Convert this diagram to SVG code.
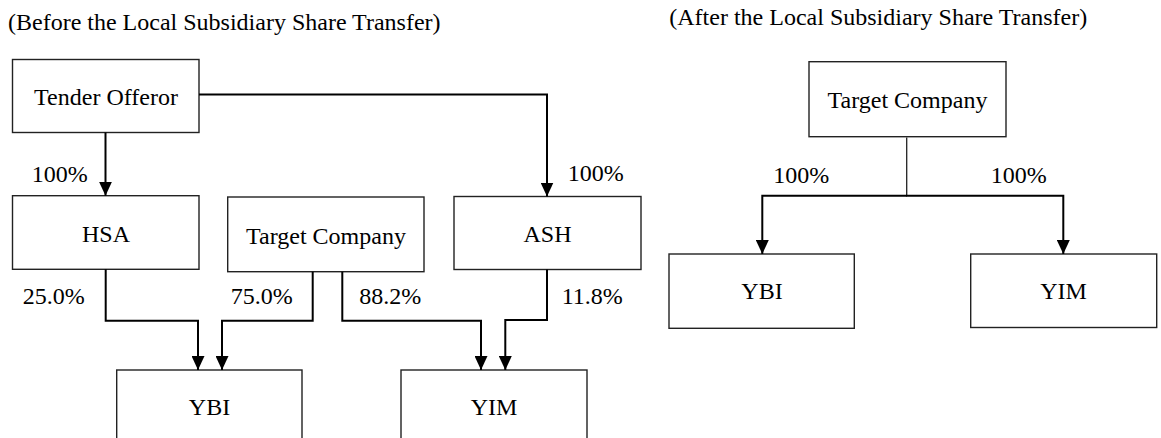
<svg xmlns="http://www.w3.org/2000/svg" width="1161" height="438" viewBox="0 0 1161 438" font-family="'Liberation Serif', 'Times New Roman', serif" font-size="24">
  <style>
    text { font-family: "Liberation Serif", "Times New Roman", serif; font-size: 24px; fill: #000; }
    .c { text-anchor: middle; }
    .box { fill: #fff; stroke: #222; stroke-width: 1.4; }
    .ln { fill: none; stroke: #000; stroke-width: 2; }
    .thin { fill: none; stroke: #222; stroke-width: 1.3; }
  </style>
  <defs>
    <marker id="arr" viewBox="0 0 14 13" refX="14" refY="6.5" markerWidth="14" markerHeight="13" markerUnits="userSpaceOnUse" orient="auto">
      <path d="M0,0 L14,6.5 L0,13 z" fill="#000"/>
    </marker>
  </defs>

  <text x="8" y="30" style="font-family:'Liberation Serif',serif">(Before the Local Subsidiary Share Transfer)</text>
  <text x="669.3" y="25" style="font-family:'Liberation Serif',serif">(After the Local Subsidiary Share Transfer)</text>

  <g id="tender-offeror">
    <rect class="box" x="12.5" y="59.5" width="186.5" height="73"/>
    <text class="c" x="106" y="105" style="font-family:'Liberation Serif',serif">Tender Offeror</text>
  </g>
  <g id="hsa">
    <rect class="box" x="12.5" y="195.7" width="186.5" height="73.6"/>
    <text class="c" x="106" y="242" style="font-family:'Liberation Serif',serif">HSA</text>
  </g>
  <g id="target-company-before">
    <rect class="box" x="227.7" y="197" width="196.3" height="74.7"/>
    <text class="c" x="326" y="244" style="font-family:'Liberation Serif',serif">Target Company</text>
  </g>
  <g id="ash">
    <rect class="box" x="454" y="196.5" width="187" height="73"/>
    <text class="c" x="547.5" y="242" style="font-family:'Liberation Serif',serif">ASH</text>
  </g>
  <g id="ybi-before">
    <rect class="box" x="116.7" y="370" width="185.3" height="80"/>
    <text class="c" x="209.5" y="415" style="font-family:'Liberation Serif',serif">YBI</text>
  </g>
  <g id="yim-before">
    <rect class="box" x="401" y="370" width="186" height="80"/>
    <text class="c" x="494" y="415" style="font-family:'Liberation Serif',serif">YIM</text>
  </g>

  <g id="target-company-after">
    <rect class="box" x="809" y="61.7" width="197" height="75"/>
    <text class="c" x="907.5" y="108" style="font-family:'Liberation Serif',serif">Target Company</text>
  </g>
  <g id="ybi-after">
    <rect class="box" x="669" y="254" width="185.3" height="74.3"/>
    <text class="c" x="762" y="299" style="font-family:'Liberation Serif',serif">YBI</text>
  </g>
  <g id="yim-after">
    <rect class="box" x="970.7" y="254" width="186" height="73.5"/>
    <text class="c" x="1063.5" y="299" style="font-family:'Liberation Serif',serif">YIM</text>
  </g>

  <g id="connectors">
    <path class="ln" d="M105.5,132.5 V195.7" marker-end="url(#arr)"/>
    <path class="ln" d="M199,94.5 H547 V196.5" marker-end="url(#arr)"/>
    <path class="ln" d="M105.7,269.3 V320.7 H198 V370" marker-end="url(#arr)"/>
    <path class="ln" d="M312.7,271.7 V320.7 H222 V370" marker-end="url(#arr)"/>
    <path class="ln" d="M342.3,271.7 V320.7 H481 V370" marker-end="url(#arr)"/>
    <path class="ln" d="M547,269.5 V320 H505.3 V370" marker-end="url(#arr)"/>

    <path class="thin" d="M906.7,137.5 V195.7"/>
    <path class="ln" d="M907,195.7 H762.3 V254" marker-end="url(#arr)"/>
    <path class="ln" d="M906.4,195.7 H1063.3 V254" marker-end="url(#arr)"/>
  </g>

  <g id="labels">
    <text x="31.7" y="181.7" style="font-family:'Liberation Serif',serif">100%</text>
    <text x="567.7" y="181" style="font-family:'Liberation Serif',serif">100%</text>
    <text x="22.7" y="304" style="font-family:'Liberation Serif',serif">25.0%</text>
    <text x="230.7" y="304" style="font-family:'Liberation Serif',serif">75.0%</text>
    <text x="359.3" y="304" style="font-family:'Liberation Serif',serif">88.2%</text>
    <text x="561.7" y="304" style="font-family:'Liberation Serif',serif">11.8%</text>
    <text x="773.3" y="182.7" style="font-family:'Liberation Serif',serif">100%</text>
    <text x="990.7" y="182.7" style="font-family:'Liberation Serif',serif">100%</text>
  </g>
</svg>
